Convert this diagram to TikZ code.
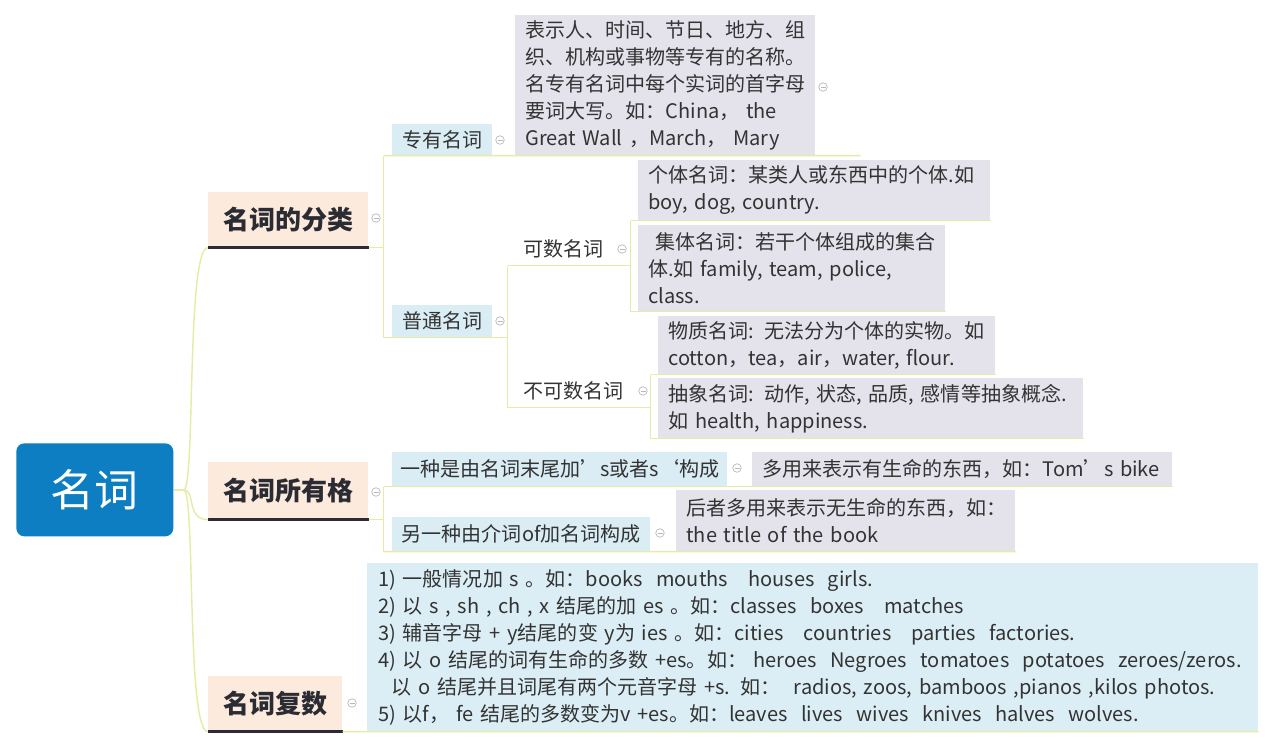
\documentclass[tikz,border=0pt]{standalone}
\usepackage{fontspec}
\setmainfont{Noto Sans CJK SC}
\definecolor{rootblue}{RGB}{12,126,193}
\definecolor{topicbeige}{RGB}{252,235,221}
\definecolor{subblue}{RGB}{218,237,245}
\definecolor{notegray}{RGB}{228,226,235}
\definecolor{plurblue}{RGB}{220,238,245}
\definecolor{linkyellow}{RGB}{230,235,165}
\definecolor{bardark}{RGB}{42,43,51}
\definecolor{textgray}{RGB}{51,51,51}
\definecolor{foldgray}{RGB}{185,185,185}
\tikzset{
  rootbox/.style={fill=rootblue, rounded corners=0.16cm, text=white, font=\fontsize{25}{30}\selectfont, minimum width=3.14cm, minimum height=1.86cm, inner sep=0pt, anchor=north west},
  topic/.style={fill=topicbeige, text=bardark, font=\fontsize{14.8}{18}\selectfont\bfseries, anchor=north west, inner sep=0pt},
  sub/.style={fill=subblue, text=textgray, font=\fontsize{11.4}{14}\selectfont, anchor=north west, inner sep=0pt},
  plain/.style={sub, fill=none},
  note/.style={fill=notegray, text=textgray, font=\fontsize{11.4}{15.4}\selectfont, anchor=north west, align=left, inner xsep=0.2cm, inner ysep=0pt},
  link/.style={draw=linkyellow, line width=0.8pt},
  bar/.style={draw=bardark, line width=1.7pt},
  fold/.style={circle, draw=foldgray, line width=0.4pt, minimum size=0.17cm, inner sep=0pt,
    path picture={\draw[foldgray, line width=0.4pt] ([xshift=-0.05cm]path picture bounding box.center) -- ([xshift=0.05cm]path picture bounding box.center);}},
}
\begin{document}
\begin{tikzpicture}[x=0.02cm, y=-0.02cm]
\useasboundingbox[fill=white] (0,0) rectangle (1275,747);
% root and main topics
\node[rootbox] (root) at (16,443) {名词};
\node[topic, minimum width=3.2cm, minimum height=1.1cm] (cls) at (208,192) {名词的分类};
\node[topic, minimum width=3.2cm, minimum height=1.14cm] (poss) at (208,462) {名词所有格};
\node[topic, minimum width=2.68cm, minimum height=1.1cm] (plur) at (208,676) {名词复数};
% classification
\node[sub, minimum width=2cm, minimum height=0.62cm] (prop) at (392,124) {专有名词};
\node[sub, minimum width=2cm, minimum height=0.64cm] (comm) at (392,305) {普通名词};
\node[note, text width=5.6cm, minimum height=2.8cm] (propnote) at (515,15) {表示人、时间、节日、地方、组\\织、机构或事物等专有的名称。\\名专有名词中每个实词的首字母\\要词大写。如：China，\ the\\Great Wall ，March，\ Mary};
\node[plain, minimum width=1.94cm, minimum height=0.64cm] (cnt) at (515,233) {可数名词};
\node[plain, minimum width=2.34cm, minimum height=0.64cm] (unc) at (515,375) {不可数名词};
\node[note, text width=6.64cm, minimum height=1.2cm] (indiv) at (638,160) {个体名词：某类人或东西中的个体.如\\boy, dog, country.};
\node[note, text width=5.74cm, minimum height=1.72cm] (coll) at (638,225) {\hspace*{0.14cm}集体名词：若干个体组成的集合\\体.如 family, team, police,\\class.};
\node[note, text width=6.34cm, minimum height=1.16cm] (mat) at (658,316) {物质名词: 无法分为个体的实物。如\\cotton，tea，air，water, flour.};
\node[note, text width=8.1cm, minimum height=1.2cm] (abst) at (658,378) {抽象名词: 动作, 状态, 品质, 感情等抽象概念.\\如 health, happiness.};
% possessive
\node[sub, minimum width=6.7cm, minimum height=0.68cm] (poss1) at (392,452) {一种是由名词末尾加’s或者s‘构成};
\node[sub, minimum width=5.16cm, minimum height=0.68cm] (poss2) at (392,517) {另一种由介词of加名词构成};
\node[note, text width=8cm, minimum height=0.68cm] (possnote1) at (752,452) {多用来表示有生命的东西，如：Tom’s bike};
\node[note, text width=6.38cm, minimum height=1.22cm] (possnote2) at (676,490) {后者多用来表示无生命的东西，如：\\the title of the book};
% plural
\node[note, fill=plurblue, inner xsep=0.22cm, text width=17.38cm, minimum height=3.36cm] (plurnote) at (367,563) {1) 一般情况加 s 。如：books\ \ mouths\ \ \ houses\ \ girls.\\2) 以 s , sh , ch , x 结尾的加 es 。如：classes\ \ boxes\ \ \ matches\\3) 辅音字母 + y结尾的变 y为 ies 。如：cities\ \ \ countries\ \ \ parties\ \ factories.\\4) 以 o 结尾的词有生命的多数 +es。如：\ heroes\ \ Negroes\ \ tomatoes\ \ potatoes\ \ zeroes/zeros.\\\ \ 以 o 结尾并且词尾有两个元音字母 +s. 如：\ \ radios, zoos, bamboos ,pianos ,kilos photos.\\5) 以f，\ fe 结尾的多数变为v +es。如：leaves\ \ lives\ \ wives\ \ knives\ \ halves\ \ wolves.};
% underline bars
\draw[bar] (cls.south west) -- (cls.south east);
\draw[bar] (poss.south west) -- (poss.south east);
\draw[bar] (plur.south west) -- (plur.south east);
% connectors
\draw[link] (root.east) -- ++(10,0) coordinate (rootbus);
\draw[link] (rootbus) .. controls +(12,0) and +(-22,0) .. (cls.south west);
\draw[link] (rootbus) .. controls +(12,0) and +(-22,0) .. (poss.south west);
\draw[link] (rootbus) .. controls +(12,0) and +(-22,0) .. (plur.south west);
\draw[link] (cls.south east) -- ++(15,0) coordinate (clsbus);
\draw[link] (clsbus |- prop.south) -- (clsbus |- comm.south);
\draw[link] (clsbus |- prop.south) -- ([xshift=0.9cm]propnote.south east);
\draw[link] (clsbus |- comm.south) -- ([xshift=0.3cm]comm.south east) coordinate (commbus);
\draw[link] (commbus |- cnt.south) -- (commbus |- unc.south);
\draw[link] (commbus |- cnt.south) -- (cnt.south east) -- ++(18,0) coordinate (cntbus);
\draw[link] (cntbus |- indiv.south) -- (cntbus |- coll.south);
\draw[link] (cntbus |- indiv.south) -- (indiv.south east);
\draw[link] (cntbus |- coll.south) -- (coll.south east);
\draw[link] (commbus |- unc.south) -- (unc.south east) -- ++(18,0) coordinate (uncbus);
\draw[link] (uncbus |- mat.south) -- (uncbus |- abst.south);
\draw[link] (uncbus |- mat.south) -- (mat.south east);
\draw[link] (uncbus |- abst.south) -- (abst.south east);
\draw[link] (poss.south east) -- ++(15,0) coordinate (possbus);
\draw[link] (possbus |- poss1.south) -- (possbus |- poss2.south);
\draw[link] (possbus |- poss1.south) -- (possnote1.south east);
\draw[link] (possbus |- poss2.south) -- (possnote2.south east);
\draw[link] (plur.south east) -- (plurnote.south east);
% fold markers
\node[fold] (clsfold) at (376,218) {};
\node[fold] (propfold) at (500,140) {};
\node[fold] (notefold) at (823,87) {};
\node[fold] (commfold) at (500,321) {};
\node[fold] (cntfold) at (622,249) {};
\node[fold] (uncfold) at (643,391) {};
\node[fold] (possfold) at (376,492) {};
\node[fold] (poss1fold) at (737,468) {};
\node[fold] (poss2fold) at (660,533) {};
\node[fold] (plurfold) at (352,703) {};
\end{tikzpicture}
\end{document}
